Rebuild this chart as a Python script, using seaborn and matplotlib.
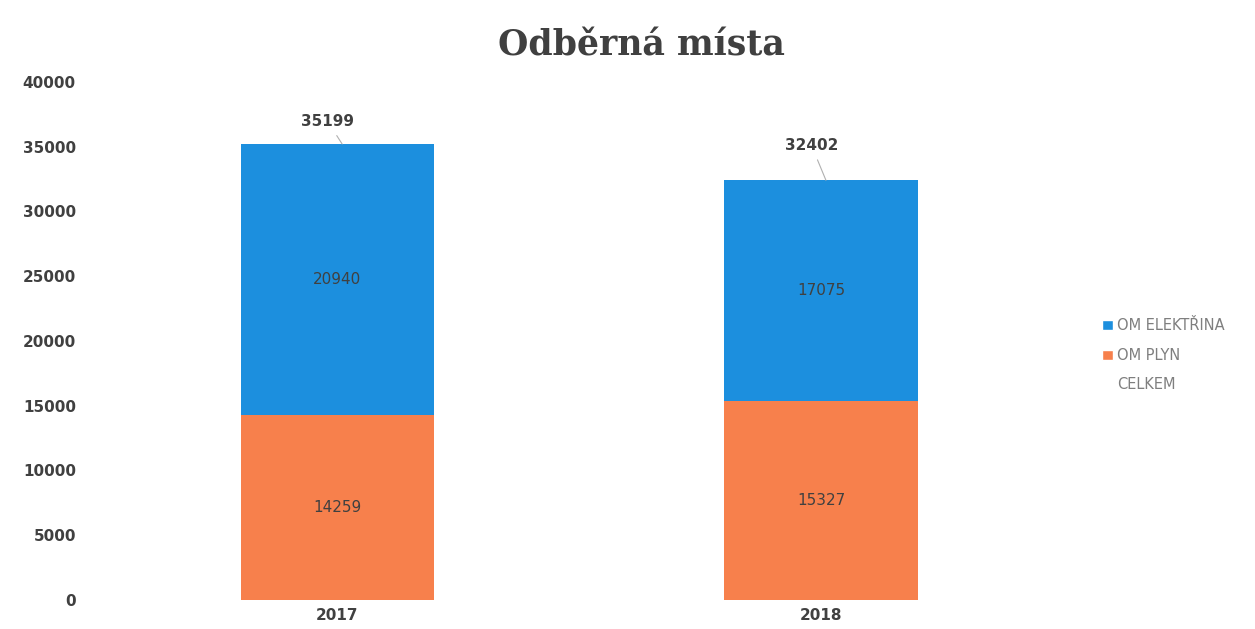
import numpy as np
import pandas as pd
import matplotlib.pyplot as plt
import seaborn as sns
from matplotlib.patches import Patch

# data
years = ["2017", "2018"]
om_plyn = [14259, 15327]
om_elektrina = [20940, 17075]
celkem = [p + e for p, e in zip(om_plyn, om_elektrina)]
label_lift = [1750, 2700]  # how far the total labels sit above the bars

blue = "#1C8FDE"
orange = "#F7804C"
txt = "#404040"

df = pd.DataFrame({"rok": years, "plyn": om_plyn, "elektrina": om_elektrina, "celkem": celkem})

sns.set_style("white")
plt.rcParams["font.family"] = ["DejaVu Sans"]

fig = plt.figure(figsize=(12.55, 6.29), dpi=100)
ax = fig.add_axes([0.076, 0.046, 0.771, 0.824])

# stacked look: full total in blue, gas part on top of it in orange
sns.barplot(data=df, x="rok", y="celkem", color=blue, width=0.4, saturation=1,
            linewidth=0, ax=ax)
sns.barplot(data=df, x="rok", y="plyn", color=orange, width=0.4, saturation=1,
            linewidth=0, ax=ax)

ax.set_ylim(0, 40000)
ax.set_xlim(-0.5, 1.5)
ax.set_yticks(np.arange(0, 40001, 5000))
ax.set_xlabel("")
ax.set_ylabel("")
sns.despine(ax=ax, left=True, bottom=True)
ax.tick_params(axis="y", length=0, labelsize=11, labelcolor=txt, pad=14)
ax.tick_params(axis="x", length=0, labelsize=11, labelcolor=txt, pad=6)
for lbl in ax.get_xticklabels() + ax.get_yticklabels():
    lbl.set_fontweight("bold")

# value labels
for i in range(len(years)):
    ax.text(i, om_plyn[i] / 2, str(om_plyn[i]), ha="center", va="center",
            fontsize=11, color=txt)
    ax.text(i, om_plyn[i] + om_elektrina[i] / 2, str(om_elektrina[i]), ha="center",
            va="center", fontsize=11, color=txt)
    ax.annotate(str(celkem[i]), xy=(i + 0.01, celkem[i]), xytext=(i - 0.02, celkem[i] + label_lift[i]),
                ha="center", va="center", fontsize=11, fontweight="bold", color=txt,
                arrowprops=dict(arrowstyle="-", color="#b0b0b0", lw=0.8, shrinkA=3, shrinkB=0))

fig.suptitle("Odběrná místa", x=0.511, y=0.955, fontsize=25, color=txt,
             family="DejaVu Serif", fontweight="bold")

handles = [Patch(facecolor=blue), Patch(facecolor=orange), Patch(facecolor="none", edgecolor="none")]
fig.legend(handles, ["OM ELEKTŘINA", "OM PLYN", "CELKEM"], loc="center left",
           bbox_to_anchor=(0.868, 0.435), frameon=False, fontsize=10.5,
           labelcolor="#7f7f7f", handlelength=0.7, handleheight=0.7, handletextpad=0.3,
           labelspacing=1.0)

fig.savefig("out.png", dpi=100)
